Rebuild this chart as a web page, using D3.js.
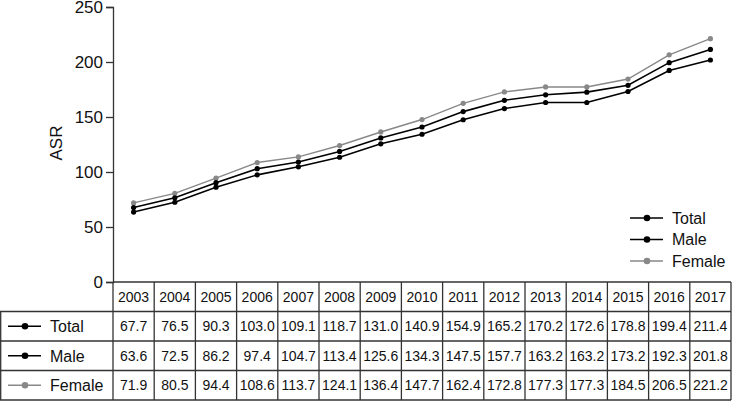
<!DOCTYPE html>
<html>
<head>
<meta charset="utf-8">
<script src="https://cdn.jsdelivr.net/npm/d3@7"></script>
<style>
body { margin: 0; background: #fff; }
text { font-family: "Liberation Sans", Arial, sans-serif; fill: #111; }
</style>
</head>
<body>
<svg width="735" height="402"></svg>
<script>
var years = [2003, 2004, 2005, 2006, 2007, 2008, 2009, 2010, 2011, 2012, 2013, 2014, 2015, 2016, 2017];
var total = [67.7, 76.5, 90.3, 103.0, 109.1, 118.7, 131.0, 140.9, 154.9, 165.2, 170.2, 172.6, 178.8, 199.4, 211.4];
var male = [63.6, 72.5, 86.2, 97.4, 104.7, 113.4, 125.6, 134.3, 147.5, 157.7, 163.2, 163.2, 173.2, 192.3, 201.8];
var female = [71.9, 80.5, 94.4, 108.6, 113.7, 124.1, 136.4, 147.7, 162.4, 172.8, 177.3, 177.3, 184.5, 206.5, 221.2];
var yTicks = [0, 50, 100, 150, 200, 250];

var series = [
    { name: "Total", values: total, color: "#000", width: 1.6 },
    { name: "Male", values: male, color: "#000", width: 1.6 },
    { name: "Female", values: female, color: "#888", width: 1.4 }
];

var svg = d3.select("svg");
var plotLeft = 113, plotRight = 731, plotTop = 7, plotBottom = 282;
var rowH = 29.5;

var x = d3.scaleBand().domain(years).range([plotLeft, plotRight]);
var y = d3.scaleLinear().domain([0, 250]).range([plotBottom, plotTop]);

// y axis
var yAxis = svg.append("g")
    .attr("transform", "translate(" + plotLeft + ",0)")
    .call(d3.axisLeft(y).tickValues(yTicks).tickSize(7).tickPadding(3));
yAxis.select(".domain").attr("stroke", "#333").attr("stroke-width", 1.3);
yAxis.selectAll(".tick line").attr("stroke", "#333").attr("stroke-width", 1.3);
yAxis.selectAll("text").attr("font-size", 17).style("font-family", "Liberation Sans, Arial, sans-serif").attr("fill", "#111");

svg.append("text")
    .attr("transform", "translate(62,143) rotate(-90)")
    .attr("text-anchor", "middle")
    .attr("font-size", 17)
    .text("ASR");

// lines
var line = d3.line()
    .x(function (d, i) { return x(years[i]) + x.bandwidth() / 2; })
    .y(function (d) { return y(d); });

series.slice().reverse().forEach(function (s) {
    svg.append("path")
        .datum(s.values)
        .attr("fill", "none")
        .attr("stroke", s.color)
        .attr("stroke-width", s.width)
        .attr("d", line);
    svg.selectAll(null)
        .data(s.values)
        .enter().append("circle")
        .attr("cx", function (d, i) { return x(years[i]) + x.bandwidth() / 2; })
        .attr("cy", function (d) { return y(d); })
        .attr("r", 2.6)
        .attr("fill", s.color);
});

// legend
var legend = svg.append("g").attr("transform", "translate(630,218)");
series.forEach(function (s, i) {
    var g = legend.append("g").attr("transform", "translate(0," + (i * 21.5) + ")");
    g.append("line").attr("x1", 0).attr("x2", 33).attr("stroke", s.color).attr("stroke-width", s.width);
    g.append("circle").attr("cx", 17).attr("r", 3.3).attr("fill", s.color);
    g.append("text").attr("x", 42).attr("dy", "0.35em").attr("font-size", 16).text(s.name);
});

// table
var tbl = svg.append("g");
var stroke = "#333";
// header cells
years.forEach(function (yr) {
    tbl.append("text")
        .attr("x", x(yr) + x.bandwidth() / 2)
        .attr("y", plotBottom + rowH / 2)
        .attr("dy", "0.36em")
        .attr("text-anchor", "middle")
        .attr("font-size", 14)
        .text(yr);
});
series.forEach(function (s, r) {
    var cy = plotBottom + rowH * (r + 1) + rowH / 2;
    tbl.append("line").attr("x1", 8).attr("x2", 41).attr("y1", cy).attr("y2", cy)
        .attr("stroke", s.color).attr("stroke-width", s.width);
    tbl.append("circle").attr("cx", 25).attr("cy", cy).attr("r", 3.3).attr("fill", s.color);
    tbl.append("text").attr("x", 50).attr("y", cy).attr("dy", "0.36em")
        .attr("font-size", 16).text(s.name);
    s.values.forEach(function (v, i) {
        tbl.append("text")
            .attr("x", x(years[i]) + x.bandwidth() / 2)
            .attr("y", cy)
            .attr("dy", "0.36em")
            .attr("text-anchor", "middle")
            .attr("font-size", 14)
            .text(v.toFixed(1));
    });
});
// grid lines
for (var r = 0; r <= 4; r++) {
    var yy = plotBottom + r * rowH;
    tbl.append("line")
        .attr("x1", r === 0 ? plotLeft : 0).attr("x2", plotRight)
        .attr("y1", yy).attr("y2", yy)
        .attr("stroke", stroke).attr("stroke-width", 1.3);
}
tbl.append("line").attr("x1", 0.7).attr("x2", 0.7)
    .attr("y1", plotBottom + rowH).attr("y2", plotBottom + 4 * rowH)
    .attr("stroke", stroke).attr("stroke-width", 1.3);
years.concat([null]).forEach(function (yr) {
    var xx = yr === null ? plotRight : x(yr);
    tbl.append("line").attr("x1", xx).attr("x2", xx)
        .attr("y1", plotBottom).attr("y2", plotBottom + 4 * rowH)
        .attr("stroke", stroke).attr("stroke-width", 1.3);
});
</script>
</body>
</html>
